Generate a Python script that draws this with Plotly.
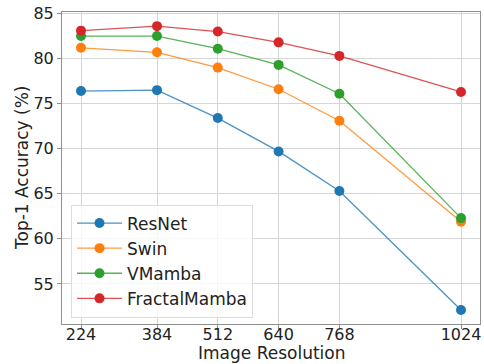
import plotly.graph_objects as go

resolutions = [224, 384, 512, 640, 768, 1024]
resnet = [76.4, 76.5, 73.4, 69.7, 65.3, 52.1]
swin = [81.2, 80.7, 79.0, 76.6, 73.1, 61.9]
vmamba = [82.5, 82.5, 81.1, 79.3, 76.1, 62.3]
fractalmamba = [83.1, 83.6, 83.0, 81.8, 80.3, 76.3]
y_ticks = [55, 60, 65, 70, 75, 80, 85]

series = [
    ("ResNet", resnet, "31,119,180"),
    ("Swin", swin, "255,127,14"),
    ("VMamba", vmamba, "44,160,44"),
    ("FractalMamba", fractalmamba, "214,39,40"),
]

fig = go.Figure()
for i, (name, vals, rgb) in enumerate(series):
    fig.add_trace(go.Scatter(
        x=resolutions, y=vals, name=name, mode="lines+markers",
        legendgroup=f"g{i}",
        line=dict(color=f"rgba({rgb},0.8)", width=1.3),
        marker=dict(color=f"rgb({rgb})", size=10),
    ))

font = "DejaVu Sans"
W, H = 484, 364
L, T, R, B = 62, 12, 4, 40
pw, ph = W - L - R, H - T - B
bottom_px = H - B  # page pixel of the plot bottom


def py(page_y):
    return (bottom_px - page_y) / ph


def px(page_x):
    return (page_x - L) / pw


fig.update_layout(
    width=W, height=H,
    margin=dict(l=L, r=R, t=T, b=B),
    paper_bgcolor="white", plot_bgcolor="white",
    font=dict(family=font, size=16, color="#222"),
    showlegend=True,
    legend=dict(
        x=px(71), y=py(317.5), xanchor="left", yanchor="bottom",
        bgcolor="rgba(255,255,255,0.8)", bordercolor="#dddddd", borderwidth=1,
        font=dict(family=font, size=17, color="#222"),
        tracegroupgap=0, itemwidth=45,
    ),
    xaxis=dict(
        range=[184, 1064], tickvals=resolutions, ticktext=[str(r) for r in resolutions],
        showgrid=True, gridcolor="#d6d6d6", gridwidth=1, zeroline=False,
        showline=True, linecolor="#909090", linewidth=1, mirror=True,
        ticks="outside", ticklen=4, tickcolor="#909090",
        tickfont=dict(size=16), automargin=False,
        ticklabelstandoff=-8, ticklabeloverflow="allow",
    ),
    yaxis=dict(
        range=[50.55, 85.17], tickvals=y_ticks,
        showgrid=True, gridcolor="#d6d6d6", gridwidth=1, zeroline=False,
        showline=True, linecolor="#909090", linewidth=1, mirror=True,
        ticks="outside", ticklen=4, tickcolor="#909090",
        tickfont=dict(size=16), automargin=False,
        ticklabeloverflow="allow",
    ),
    annotations=[
        dict(text="Image Resolution", xref="paper", yref="paper",
             x=0.5, y=py(353), xanchor="center", yanchor="middle",
             showarrow=False, font=dict(size=17, family=font, color="#222")),
        dict(text="Top-1 Accuracy (%)", xref="paper", yref="paper",
             x=px(22), y=0.5, xanchor="center", yanchor="middle", textangle=-90,
             showarrow=False, font=dict(size=17, family=font, color="#222")),
    ],
)

fig.write_html("out.html", config={"displayModeBar": False},
               post_script="document.body.style.margin='0';")
